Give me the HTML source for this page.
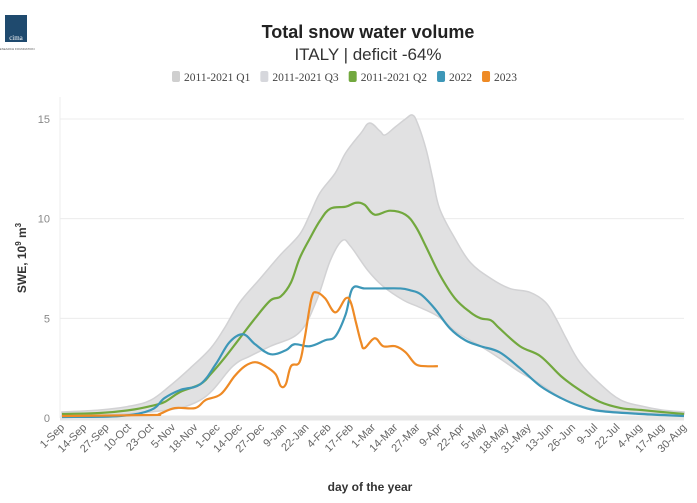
<!DOCTYPE html>
<html><head><meta charset="utf-8"><style>
body{margin:0;background:#fff;font-family:"Liberation Sans",sans-serif;}
#wrap{position:relative;width:697px;height:503px;overflow:hidden;}
</style></head><body>
<div id="wrap">
<svg id="chart" width="697" height="503">
  <g>
    <rect x="5" y="15" width="22" height="27" fill="#1f4a6e"/>
    <text x="16" y="40" font-size="7" fill="#fff" text-anchor="middle" font-family="Liberation Serif,serif">cima</text>
    <text x="16" y="50" font-size="3" fill="#555" text-anchor="middle">RESEARCH FOUNDATION</text>
  </g>
  <text x="368" y="38" text-anchor="middle" font-size="18" font-weight="bold" fill="#222">Total snow water volume</text>
  <text x="368" y="60" text-anchor="middle" font-size="17" fill="#333">ITALY | deficit -64%</text>
  <g id="legend"></g>
  <g id="grid"></g>
  <g id="band"></g>
  <g id="lines"></g>
  <g id="xt"></g>
  <text transform="translate(26,258) rotate(-90)" text-anchor="middle" font-size="12" font-weight="bold" fill="#333">SWE, 10<tspan font-size="8" dy="-5">9</tspan><tspan dy="5"> m</tspan><tspan font-size="8" dy="-5">3</tspan></text>
  <text x="370" y="491" text-anchor="middle" font-size="12" font-weight="bold" fill="#333">day of the year</text>
</svg>
</div>
<script>
const tickLabels=["1-Sep","14-Sep","27-Sep","10-Oct","23-Oct","5-Nov","18-Nov","1-Dec","14-Dec","27-Dec","9-Jan","22-Jan","4-Feb","17-Feb","1-Mar","14-Mar","27-Mar","9-Apr","22-Apr","5-May","18-May","31-May","13-Jun","26-Jun","9-Jul","22-Jul","4-Aug","17-Aug","30-Aug"];
const yTicks=[0,5,10,15];
const q3Days=[0,22,40,52,63,75,87,95,104,116,128,139,145,151,160,166,175,180,186,189,195,201,205,208,213,217,221,230,239,251,262,274,283,289,295,303,315,327,339,351,364];
const q3Vals=[0.3,0.4,0.6,0.9,1.6,2.5,3.5,4.5,5.8,7,8.2,9.2,10.2,11.3,12.3,13.3,14.3,14.8,14.4,14.2,14.6,15.0,15.2,14.8,13.5,12,10.5,9.0,7.8,7,6.5,6.3,5.8,5,4,2.8,1.7,0.9,0.6,0.4,0.3];
const q1Days=[0,52,81,100,110,122,139,149,157,164,169,179,188,200,208,220,231,245,256,268,280,292,303,315,339,364];
const q1Vals=[0.1,0.3,0.9,2.6,3.1,3.6,4.3,5.9,7.9,8.9,8.6,7.4,6.6,5.9,5.6,5.1,4.3,3.6,3.0,2.3,1.7,1.0,0.6,0.4,0.25,0.2];
const q2Days=[0,22,40,52,60,69,81,87,95,104,113,122,128,134,139,145,151,157,166,172,177,183,192,201,207,213,221,230,239,245,251,256,268,280,292,303,315,327,339,351,364];
const q2Vals=[0.2,0.25,0.4,0.6,0.8,1.3,1.7,2.2,3.0,4.0,5.0,5.9,6.1,6.8,8.0,9.0,9.9,10.5,10.6,10.8,10.7,10.2,10.4,10.2,9.6,8.6,7.2,6.0,5.3,5.0,4.9,4.5,3.6,3.1,2.1,1.4,0.8,0.5,0.4,0.3,0.2];
const y22Days=[0,34,52,60,69,81,90,98,106,113,122,131,136,145,154,160,166,170,177,186,198,204,210,218,227,236,245,256,268,280,292,303,315,339,364];
const y22Vals=[0.05,0.1,0.4,1.0,1.4,1.7,2.7,3.8,4.2,3.7,3.2,3.4,3.7,3.6,3.9,4.1,5.2,6.5,6.5,6.5,6.5,6.4,6.2,5.5,4.5,3.9,3.6,3.3,2.5,1.6,1.0,0.6,0.35,0.2,0.1];
const y23Days=[0,52,57,66,78,84,93,101,107,113,119,125,128,131,134,139,142,146,149,154,160,166,169,172,175,177,183,188,195,201,207,213,220];
const y23Vals=[0.1,0.15,0.2,0.5,0.5,0.9,1.2,2.1,2.6,2.8,2.6,2.2,1.6,1.7,2.6,2.8,4.0,6.0,6.3,6.0,5.3,6.0,5.8,4.8,3.8,3.5,4.0,3.6,3.6,3.3,2.7,2.6,2.6];
const legendNames=["2011-2021 Q1","2011-2021 Q3","2011-2021 Q2","2022","2023"];
const legendColors=["#cfcfcf","#d6d7dc","#72a83e","#3d97b8","#ee8a25"];

const X0=62,X1=684,Y0=418,Y1=119;
const xs=d=>X0+(d/364)*(X1-X0);
const ys=v=>Y0-(v/15)*(Y0-Y1);
const NS="http://www.w3.org/2000/svg";
function mk(tag,attrs,parent){const e=document.createElementNS(NS,tag);for(const k in attrs)e.setAttribute(k,attrs[k]);parent.appendChild(e);return e;}
function smooth(pts,start){
  let s=start?('M'+pts[0][0]+','+pts[0][1]):('L'+pts[0][0]+','+pts[0][1]);
  for(let i=0;i<pts.length-1;i++){
    const p0=pts[Math.max(i-1,0)],p1=pts[i],p2=pts[i+1],p3=pts[Math.min(i+2,pts.length-1)];
    const k=0.18;
    const c1=[p1[0]+(p2[0]-p0[0])*k,p1[1]+(p2[1]-p0[1])*k];
    const c2=[p2[0]-(p3[0]-p1[0])*k,p2[1]-(p3[1]-p1[1])*k];
    s+=`C${c1[0]},${c1[1]} ${c2[0]},${c2[1]} ${p2[0]},${p2[1]}`;
  }
  return s;
}
const grid=document.getElementById('grid');
let ax=mk('line',{x1:60,x2:60,y1:97,y2:Y0,stroke:'#ececec'},grid);


yTicks.forEach(v=>{
  const l=mk('line',{x1:60,x2:X1,y1:ys(v),y2:ys(v),stroke:v==0?'#e6e6e6':'#ececec','stroke-width':v==0?5:1},grid);
  
  
  const t=mk('text',{x:50,y:ys(v)+4,'text-anchor':'end','font-size':11,fill:'#888'},grid);
  t.textContent=v;
  
  
});
const xt=document.getElementById('xt');
tickLabels.forEach((s,i)=>{
  const x=xs(i*13);
  const t=mk('text',{transform:`translate(${x+3},${428}) rotate(-45)`,'text-anchor':'end','font-size':11,fill:'#666'},xt);
  t.textContent=s;
  
  
});
const band=document.getElementById('band');
const bandTop=q3Days.map((dd,i)=>[xs(dd),ys(q3Vals[i])]);
const bandBot=q1Days.map((dd,i)=>[xs(dd),ys(q1Vals[i])]).reverse();
const bandD=smooth(bandTop,true)+smooth(bandBot,false)+'Z';
const bp=mk('path',{d:bandD,fill:'#e1e1e2',stroke:'#d2d2d4','stroke-width':1.5},band);


const lines=document.getElementById('lines');
function line(days,vals,color,name){
  const pts=days.map((dd,i)=>[xs(dd),ys(vals[i])]);
  const p=mk('path',{d:smooth(pts,true),fill:'none',stroke:color,'stroke-width':2.2,'stroke-linejoin':'round'},lines);
  
  
}
line(q2Days,q2Vals,legendColors[2],'line-q2');
line(y22Days,y22Vals,legendColors[3],'line-2022');
line(y23Days,y23Vals,legendColors[4],'line-2023');
const lg=document.getElementById('legend');
let lx=172;
legendNames.forEach((n,i)=>{
  const r=mk('rect',{x:lx,y:71,width:8,height:11,rx:2,fill:legendColors[i]},lg);
  
  
  const t=mk('text',{x:lx+12,y:81,'font-size':11.5,fill:'#444','font-family':'Liberation Serif,serif'},lg);
  t.textContent=n;
  
  
  lx+=t.getComputedTextLength()+22;
});
</script>
</body></html>
